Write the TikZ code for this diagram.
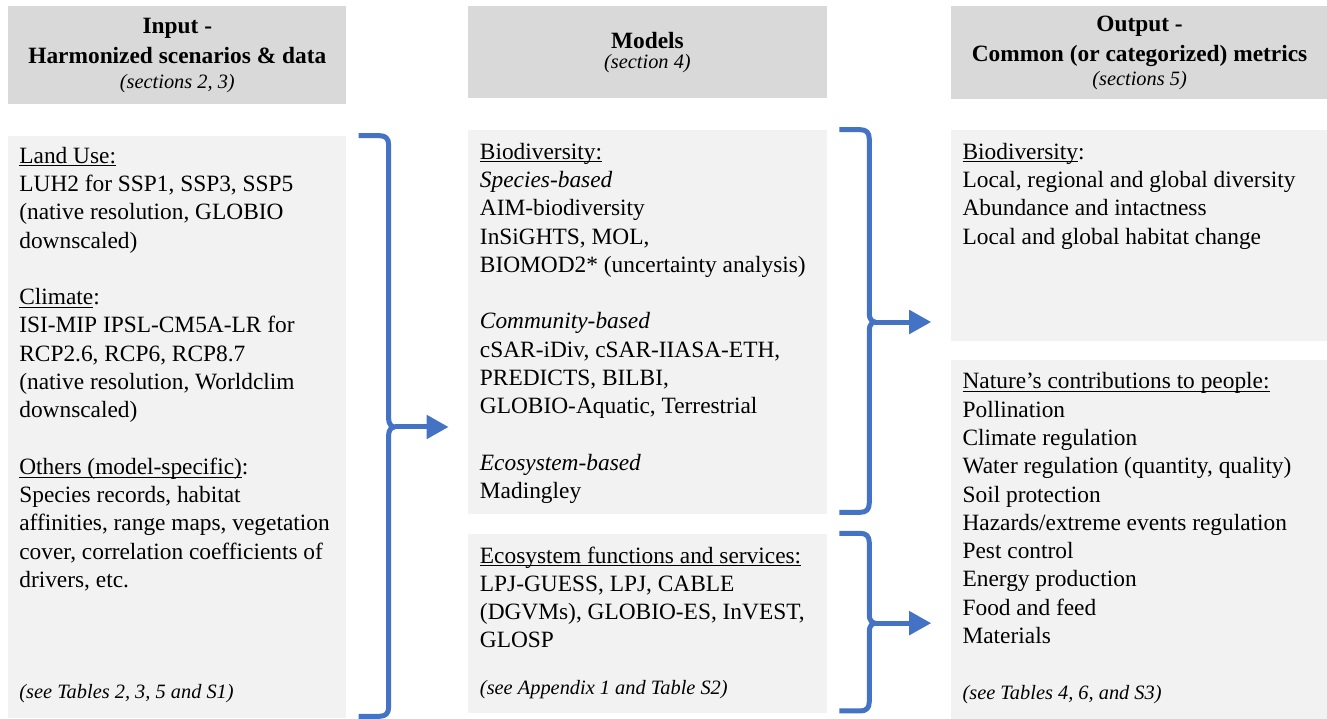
\documentclass[tikz,border=0pt]{standalone}
\usepackage{fontspec}
\setmainfont{Liberation Serif}
\usepackage{tikz}
\usetikzlibrary{
    arrows.meta,      % For the Triangle arrow heads
    positioning,      % For below=of / right=of placement
    calc              % For the bracket corner points
}
\definecolor{headgray}{HTML}{D9D9D9}
\definecolor{panelgray}{HTML}{F2F2F2}
\definecolor{braceblue}{HTML}{4472C4}
\tikzset{
  % Style for the three column headers
  headbox/.style={
    rectangle, fill=headgray, inner sep=0pt, align=center,
    font=\fontsize{13.3}{16.1}\selectfont\bfseries
  },
  % Style for the light grey panels
  panel/.style={
    rectangle, fill=panelgray, inner sep=0pt
  },
  % Style for the text inside a panel
  paneltext/.style={
    anchor=north west, align=left, inner sep=0pt,
    font=\fontsize{13.3}{16.1}\selectfont
  },
  % Style for the table references at the foot of a panel
  foot/.style={
    anchor=base west, inner sep=0pt,
    font=\fontsize{11.6}{14}\selectfont\itshape
  },
  % Style for the curly brackets
  brace/.style={
    draw=braceblue, line width=0.1cm, line join=round
  },
  % Style for arrows
  flow/.style={
    -{Triangle[length=0.44cm, width=0.46cm]}, draw=braceblue,
    line width=0.1cm, shorten >=0.38cm
  }
}
\newcommand{\subhead}{\fontsize{11.6}{14}\selectfont\mdseries\itshape}
% underline that runs just under the baseline
\newcommand{\uln}[1]{\underline{\raisebox{0pt}[\height][0pt]{#1}}}

\begin{document}
\begin{tikzpicture}[x=0.02cm, y=-0.02cm]
    \useasboundingbox (0,0) rectangle (1327,718);

    % headers
    \node[headbox, anchor=north west, minimum width=6.76cm, minimum height=1.96cm] (inhead) at (8,6)
        {Input -\\[1pt] Harmonized scenarios \& data\\[-2pt] {\subhead (sections 2, 3)}};
    \node[headbox, right=2.42cm of inhead.north east, anchor=north west, minimum width=7.18cm, minimum height=1.84cm] (modhead)
        {Models\\[-5pt] {\subhead (section 4)}};
    \node[headbox, right=2.46cm of modhead.north east, anchor=north west, minimum width=7.56cm, minimum height=1.86cm] (outhead)
        {Output -\\[1pt] Common (or categorized) metrics\\[-2pt] {\subhead (sections 5)}};

    % panels
    \node[panel, below=0.62cm of inhead.south west, anchor=north west, minimum width=6.76cm, minimum height=11.64cm] (inbox) {};
    \node[panel, below=0.62cm of modhead.south west, anchor=north west, minimum width=7.18cm, minimum height=7.68cm] (biomod) {};
    \node[panel, below=0.38cm of biomod.south west, anchor=north west, minimum width=7.18cm, minimum height=3.58cm] (esmod) {};
    \node[panel, below=0.60cm of outhead.south west, anchor=north west, minimum width=7.56cm, minimum height=4.22cm] (bioout) {};
    \node[panel, below=0.36cm of bioout.south west, anchor=north west, minimum width=7.56cm, minimum height=7.18cm] (ncpout) {};

    % panel texts
    \node[paneltext] (intext) at ($(inbox.north west)+(11,11)$) {%
        \uln{Land Use:}\\
        LUH2 for SSP1, SSP3, SSP5\\
        (native resolution, GLOBIO\\
        downscaled)\\[16.1pt]
        \uln{Climate}:\\
        ISI-MIP IPSL-CM5A-LR for\\
        RCP2.6, RCP6, RCP8.7\\
        (native resolution, Worldclim\\
        downscaled)\\[16.1pt]
        \uln{Others (model-specific)}:\\
        Species records, habitat\\
        affinities, range maps, vegetation\\
        cover, correlation coefficients of\\
        drivers, etc.};
    \node[foot] (infoot) at ($(inbox.south west)+(11,-20)$) {(see Tables 2, 3, 5 and S1)};

    \node[paneltext] (biomodtext) at ($(biomod.north west)+(12,13)$) {%
        \uln{Biodiversity:}\\
        \textit{Species-based}\\
        AIM-biodiversity\\
        InSiGHTS, MOL,\\
        BIOMOD2* (uncertainty analysis)\\[16.1pt]
        \textit{Community-based}\\
        cSAR-iDiv, cSAR-IIASA-ETH,\\
        PREDICTS, BILBI,\\
        GLOBIO-Aquatic, Terrestrial\\[16.1pt]
        \textit{Ecosystem-based}\\
        Madingley};

    \node[paneltext] (esmodtext) at ($(esmod.north west)+(12,13)$) {%
        \uln{Ecosystem functions and services:}\\
        LPJ-GUESS, LPJ, CABLE\\
        (DGVMs), GLOBIO-ES, InVEST,\\
        GLOSP};
    \node[foot] (esfoot) at ($(esmod.south west)+(12,-18)$) {(see Appendix 1 and Table S2)};

    \node[paneltext] (bioouttext) at ($(bioout.north west)+(12,13)$) {%
        \uln{Biodiversity}:\\
        Local, regional and global diversity\\
        Abundance and intactness\\
        Local and global habitat change};

    \node[paneltext] (ncpouttext) at ($(ncpout.north west)+(12,13)$) {%
        \uln{Nature’s contributions to people:}\\
        Pollination\\
        Climate regulation\\
        Water regulation (quantity, quality)\\
        Soil protection\\
        Hazards/extreme events regulation\\
        Pest control\\
        Energy production\\
        Food and feed\\
        Materials};
    \node[foot] (ncpfoot) at ($(ncpout.south west)+(12,-19)$) {(see Tables 4, 6, and S3)};

    % brackets and arrows
    \foreach \src/\dst in {inbox/biomod, biomod/bioout, esmod/ncpout} {
        \coordinate (bt) at ($(\src.north east)+(12,0)$);
        \coordinate (bb) at ($(\src.south east)+(12,-2)$);
        \coordinate (bm) at ($(\src.east)+(42,0)$);
        \draw[brace] (bt) -- ($(bt-|bm)+(-9,0)$) .. controls +(6,0) and +(0,-6) .. ($(bt-|bm)+(0,9)$)
            -- ($(bm)+(0,-8)$) .. controls +(0,5) and +(-3,0) .. ($(bm)+(6,0)$)
            .. controls +(-3,0) and +(0,-5) .. ($(bm)+(0,8)$)
            -- ($(bb-|bm)+(0,-9)$) .. controls +(0,6) and +(6,0) .. ($(bb-|bm)+(-9,0)$) -- (bb);
        \draw[flow] ($(bm)+(6,0)$) -- (bm -| \dst.west);
    }
\end{tikzpicture}
\end{document}
